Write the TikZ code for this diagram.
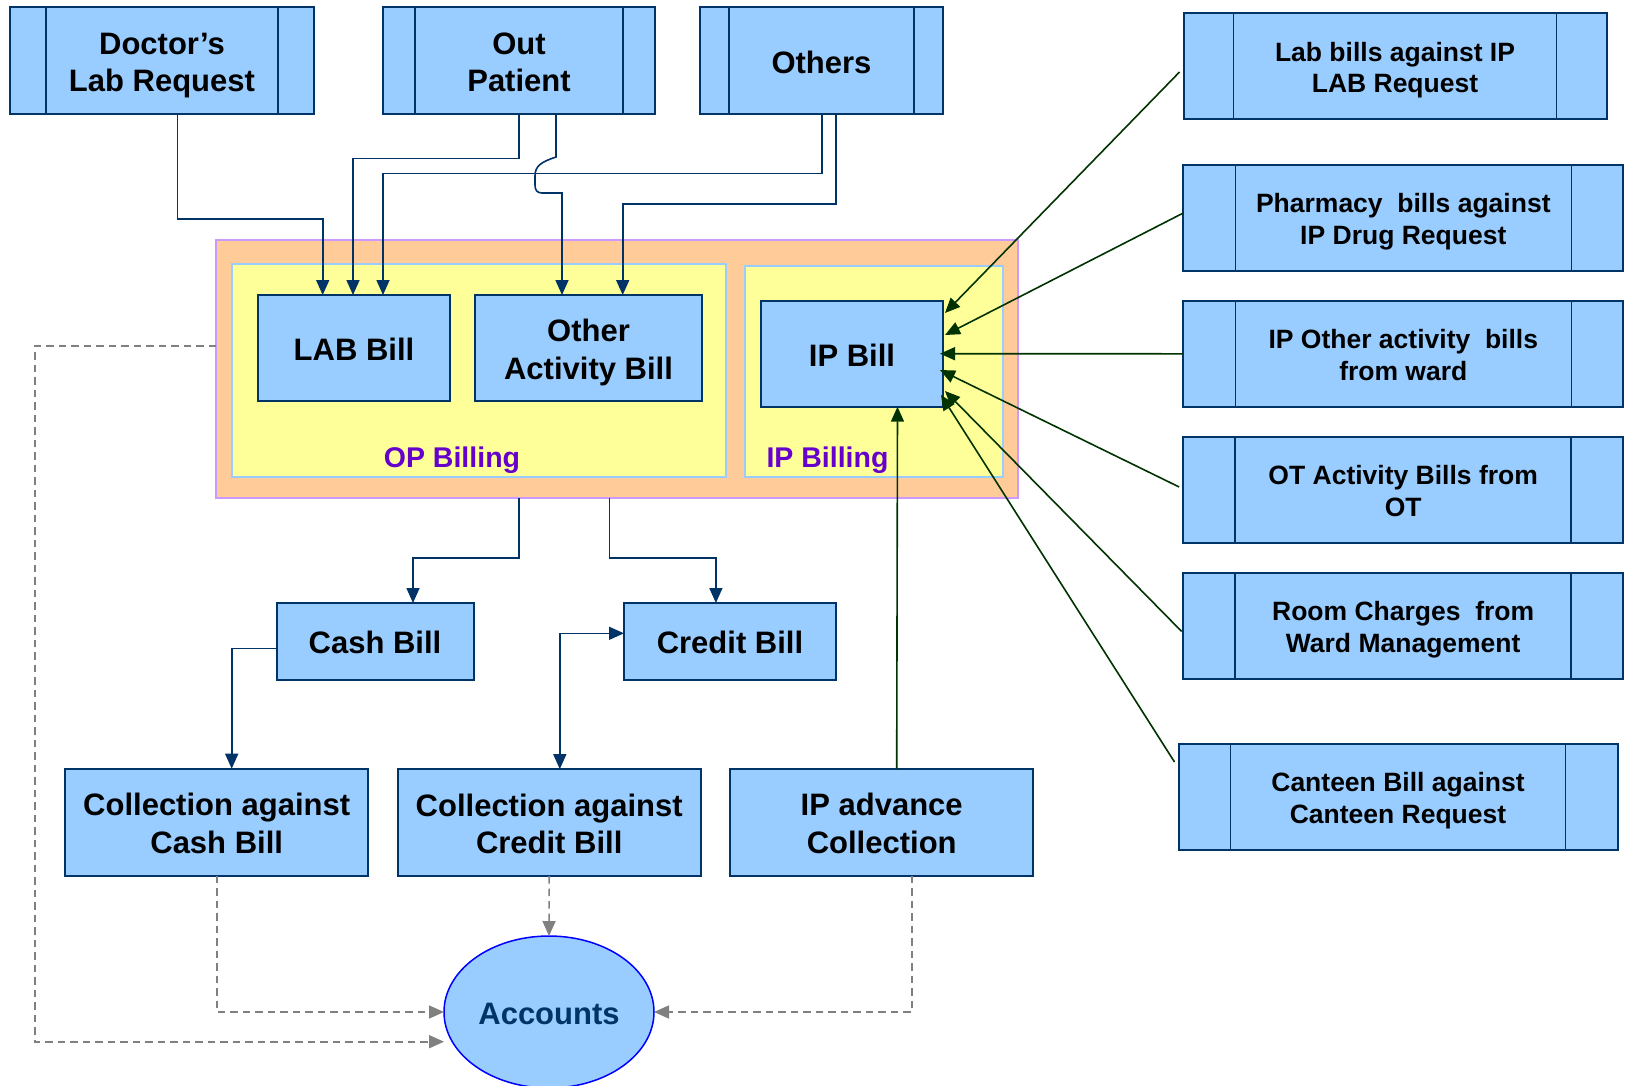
\documentclass[tikz,border=0pt]{standalone}
\usepackage{fontspec}
\setmainfont{Liberation Sans}
\usetikzlibrary{arrows.meta,shapes.geometric}
\definecolor{boxblue}{HTML}{99CCFF}
\definecolor{navy}{HTML}{003366}
\definecolor{darkgreen}{HTML}{003300}
\definecolor{billorange}{HTML}{FFCC99}
\definecolor{billpurple}{HTML}{CC99FF}
\definecolor{paneyellow}{HTML}{FFFF99}
\definecolor{labelpurple}{HTML}{6600CC}
\definecolor{dashgrey}{HTML}{808080}
% invisible strut giving the first text line a fixed ascent
\newcommand\capline{\rule{0pt}{1.05em}}

\begin{document}
\begin{tikzpicture}[x=1pt,y=-1pt,
  >={Triangle[length=15pt,width=13pt]},
  % fixed ascent/descent so every text block sits on the same metric centre
  evenlines/.style={execute at begin node={\capline},
                    execute at end node={\rule[-0.25em]{0pt}{0.25em}}},
  box/.style={draw=navy, line width=2pt, fill=boxblue, inner sep=0pt, outer sep=0pt,
    align=center, font=\fontsize{31}{37.5}\selectfont\bfseries, evenlines},
  proc/.style={box, path picture={
    \draw[navy, line width=1.6pt]
      ([xshift=#1]path picture bounding box.north west) -- ([xshift=#1]path picture bounding box.south west)
      ([xshift=-#1]path picture bounding box.north east) -- ([xshift=-#1]path picture bounding box.south east);}},
  small/.style={font=\fontsize{26.5}{31.7}\selectfont\bfseries},
  panel/.style={draw=boxblue, line width=2pt, fill=paneyellow, inner sep=0pt, outer sep=0pt},
  panellabel/.style={text=labelpurple, inner sep=0pt, font=\fontsize{28.5}{34}\selectfont\bfseries},
  link/.style={draw=navy, line width=1.6pt, ->},
  feed/.style={draw=darkgreen, line width=1.6pt, ->},
  post/.style={draw=dashgrey, line width=1.6pt, dash pattern=on 7.5pt off 5pt, ->},
]
\useasboundingbox[fill=white] (0,0) rectangle (1627,1085);

% billing frame with OP and IP panels
\node[draw=billpurple, line width=2pt, fill=billorange, inner sep=0pt, outer sep=0pt,
      minimum width=802pt, minimum height=257.7pt] (billing) at (617,368.9) {};
\node[panel, minimum width=494pt, minimum height=212.4pt] (oppanel) at (478.8,370.5) {};
\node[panel, minimum width=258pt, minimum height=210.7pt] (ippanel) at (874,371.4) {};
\node[panellabel] (oplabel) at (452,460) {OP Billing};
\node[panellabel] (iplabel) at (827.5,460) {IP Billing};

% request sources
\node[proc=36pt, minimum width=304pt, minimum height=107pt] (doc) at (162,60.7) {\capline Doctor’s\\Lab Request};
\node[proc=32pt, minimum width=272pt, minimum height=107pt] (outp) at (519,60.7) {\capline Out\\Patient};
\node[proc=29pt, minimum width=243pt, minimum height=107pt] (others) at (821.5,60.7) {Others};

% bills
\node[box, minimum width=192pt, minimum height=106pt] (lab) at (354,348) {LAB Bill};
\node[box, minimum width=227pt, minimum height=106pt] (actbill) at (588.5,348) {\capline Other\\Activity Bill};
\node[box, minimum width=182pt, minimum height=106pt] (ipb) at (852,353.7) {IP Bill};
\node[box, minimum width=197pt, minimum height=77pt] (cash) at (375,641.5) {Cash Bill};
\node[box, minimum width=212pt, minimum height=77pt] (credit) at (730,641.5) {Credit Bill};

% collections
\node[box, minimum width=303pt, minimum height=107pt] (colcash) at (216.7,822.2) {\capline Collection against\\Cash Bill};
\node[box, minimum width=303pt, minimum height=107pt] (colcredit) at (549.2,822.6) {\capline Collection against\\Credit Bill};
\node[box, minimum width=303pt, minimum height=107pt] (ipadv) at (881.7,822.2) {\capline IP advance\\Collection};

\node[ellipse, draw=blue, line width=1.5pt, fill=boxblue, inner sep=0pt, outer sep=0pt,
      minimum width=210pt, minimum height=152pt, text=navy,
      font=\fontsize{31}{37}\selectfont\bfseries, evenlines] (accounts) at (549,1012) {Accounts};

% inpatient bill sources
\node[proc=50pt, small, minimum width=423pt, minimum height=106pt] (r1) at (1395,66.3) {\capline Lab bills against IP\\LAB Request};
\node[proc=52pt, small, minimum width=440pt, minimum height=106pt] (r2) at (1403.3,217.8) {\capline Pharmacy\ \ bills against\\IP Drug Request};
\node[proc=52pt, small, minimum width=440pt, minimum height=106pt] (r3) at (1403.3,353.8) {\capline IP Other activity\ \ bills\\from ward};
\node[proc=52pt, small, minimum width=440pt, minimum height=106pt] (r4) at (1403.2,489.7) {\capline OT Activity Bills from\\OT};
\node[proc=52pt, small, minimum width=440pt, minimum height=106pt] (r5) at (1403.2,626) {\capline Room Charges\ \ from\\Ward Management};
\node[proc=52pt, small, minimum width=439pt, minimum height=106pt] (r6) at (1398,797) {\capline Canteen Bill against\\Canteen Request};

% requests into OP bills
\draw[link] ([xshift=15.6pt]doc.south) |- (322.7,219) -- ([xshift=-31.3pt]lab.north);
\draw[link] (outp.south) |- (353,158.3) -- ([xshift=-1pt]lab.north);
\draw[link] ([xshift=0.2pt]others.south) |- (383,173.5) -- ([xshift=29pt]lab.north);
\draw[link] ([xshift=37pt]outp.south) -- (556,157)
  .. controls (541,162) and (535,166) .. (535,176) -- (535,185)
  .. controls (535,190) and (537,193) .. (542,193) -- (562,193) -- ([xshift=-26.5pt]actbill.north);
\draw[link] ([xshift=14.3pt]others.south) |- (622.7,203.7) -- ([xshift=34.2pt]actbill.north);

% OP billing outputs
\draw[link] ([xshift=-98pt]billing.south) |- (413,557.7) -- ([xshift=38pt]cash.north);
\draw[link] ([xshift=-7.6pt]billing.south) |- (715.9,557.7) -- ([xshift=-14.1pt]credit.north);
\draw[link] ([yshift=-6.8pt]cash.west) -| ([xshift=15pt]colcash.north);
\draw[link, <->] ([xshift=10.6pt]colcredit.north) |- ([yshift=8.2pt]credit.west);

% IP bill inputs
\draw[feed] ([xshift=15pt]ipadv.north) -- ([xshift=45.5pt]ipb.south);
\draw[feed] ([xshift=-4pt,yshift=-5.7pt]r1.west) -- ([xshift=2pt,yshift=40.7pt]ipb.east);
\draw[feed] ([yshift=4.8pt]r2.west) -- ([xshift=2pt,yshift=18.7pt]ipb.east);
\draw[feed] (r3.west) -- ([xshift=-3pt]ipb.east);
\draw[feed] ([xshift=-4pt,yshift=2.7pt]r4.west) -- ([xshift=-3pt,yshift=-16.3pt]ipb.east);
\draw[feed] ([xshift=-1.6pt,yshift=-5.4pt]r5.west) -- ([xshift=2pt,yshift=-37.3pt]ipb.east);
\draw[feed] ([xshift=-4pt,yshift=35pt]r6.west) -- ([xshift=-2pt,yshift=-41.3pt]ipb.east);

% postings to accounts
\draw[post] (colcash.south) |- (accounts.west);
\draw[post] (colcredit.south) -- (accounts.north);
\draw[post] ([xshift=30.3pt]ipadv.south) |- (accounts.east);
\draw[post] ([yshift=22.9pt]billing.west) -| (34.8,1041.7) -- ([yshift=-29.7pt]accounts.west);
\end{tikzpicture}
\end{document}
